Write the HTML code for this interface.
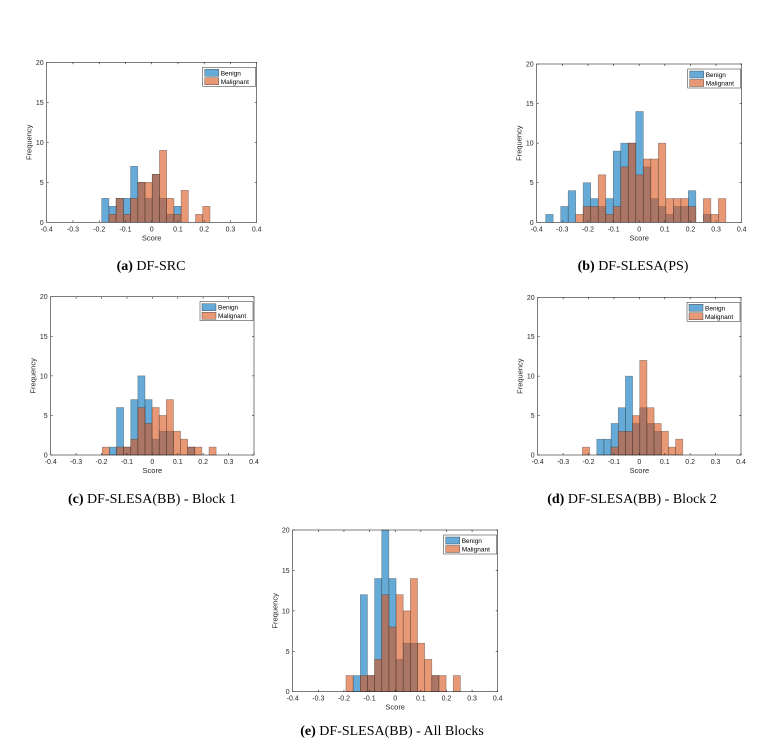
<!DOCTYPE html>
<html><head><meta charset="utf-8">
<style>
body{margin:0;background:#fff;width:776px;height:749px;overflow:hidden;font-family:"Liberation Sans",sans-serif}
.cap{position:absolute;font-family:"Liberation Serif",serif;font-size:14px;color:#000;transform:translateX(-50%);white-space:nowrap}
</style></head><body>
<svg id="chart" width="776" height="749" style="position:absolute;left:0;top:0"></svg>
<div class="cap" style="left:151px;top:259px"><b>(a)</b> DF-SRC</div>
<div class="cap" style="left:633px;top:259px"><b>(b)</b> DF-SLESA(PS)</div>
<div class="cap" style="left:152px;top:492px"><b>(c)</b> DF-SLESA(BB) - Block 1</div>
<div class="cap" style="left:632px;top:492px"><b>(d)</b> DF-SLESA(BB) - Block 2</div>
<div class="cap" style="left:392px;top:724px"><b>(e)</b> DF-SLESA(BB) - All Blocks</div>
<script>
// bin starts and widths
const binStarts = [-0.1905, -0.365, -0.197, -0.224, -0.192];
const binWidths = [0.0275, 0.0293, 0.028, 0.0282, 0.0279];
const benignA = [3,2,3,3,7,5,3,6,3,1,2,0,0,0,0];
const malignA = [0,1,3,1,3,5,5,6,9,3,1,4,0,1,2];
const benignB = [1,0,2,4,0,5,3,2,3,9,10,10,14,7,3,2,1,2,2,4,0,1,0,0];
const malignB = [0,0,0,0,1,2,2,6,1,2,7,10,6,8,8,10,3,3,3,2,0,3,1,3];
const benignC = [0,1,6,1,7,10,7,2,3,3,0,0,1,0,0,0];
const malignC = [1,0,1,1,2,6,4,6,5,7,3,2,1,1,0,1];
const benignD = [0,0,2,2,4,6,10,4,6,4,3,0,0,0];
const malignD = [1,0,0,0,1,3,3,5,12,6,4,3,1,2];
const benignE = [0,2,12,2,14,20,14,4,6,6,0,0,2,0,0,0];
const malignE = [2,0,2,2,4,12,8,12,10,14,6,4,2,2,0,2];
const xTicks = [-0.4,-0.3,-0.2,-0.1,0,0.1,0.2,0.3,0.4];
const xTickLabels = ["-0.4","-0.3","-0.2","-0.1","0","0.1","0.2","0.3","0.4"];
const yTicks = [0,5,10,15,20];

const panels = [
 {id:'a',L:46.7,R:256.7,T:62.3,B:222.3,b:benignA,m:malignA,s:0},
 {id:'b',L:536.7,R:741.7,T:64,B:222.3,b:benignB,m:malignB,s:1},
 {id:'c',L:50.7,R:254,T:296.7,B:455,b:benignC,m:malignC,s:2},
 {id:'d',L:537.7,R:741,T:297.3,B:455,b:benignD,m:malignD,s:3},
 {id:'e',L:292.7,R:497.7,T:530,B:691.7,b:benignE,m:malignE,s:4}
];
const svg=document.getElementById('chart');
const NS='http://www.w3.org/2000/svg';
function mk(tag,attrs,parent){const e=document.createElementNS(NS,tag);for(const k in attrs)e.setAttribute(k,attrs[k]);(parent||svg).appendChild(e);return e;}
panels.forEach(p=>{
 const g=mk('g',{});
 
 
 const xs=v=>p.L+(v+0.4)/0.8*(p.R-p.L);
 const ys=v=>p.B-v/20*(p.B-p.T);
 const bg=mk('rect',{x:p.L,y:p.T,width:p.R-p.L,height:p.B-p.T,fill:'#fff',stroke:'none'},g);
 
 
 const st=binStarts[p.s],w=binWidths[p.s];
 [[p.b,'#0072bd','benign'],[p.m,'#d95319','malignant']].forEach(([arr,col,nm])=>{
  arr.forEach((v,i)=>{
   if(v<=0)return;
   const x0=xs(st+i*w),x1=xs(st+(i+1)*w);
   const r=mk('rect',{x:x0,y:ys(v),width:x1-x0,height:ys(0)-ys(v),fill:col,'fill-opacity':0.6,stroke:'#333','stroke-opacity':0.5,'stroke-width':0.6},g);
   
   
  });
 });
 const ax=mk('rect',{x:p.L,y:p.T,width:p.R-p.L,height:p.B-p.T,fill:'none',stroke:'#262626','stroke-width':0.6},g);
 
 
 xTicks.forEach((t,i)=>{
  const x=xs(t);
  mk('line',{x1:x,x2:x,y1:p.B,y2:p.B-2,stroke:'#262626','stroke-width':0.6},g);
  mk('line',{x1:x,x2:x,y1:p.T,y2:p.T+2,stroke:'#262626','stroke-width':0.6},g);
  const tx=mk('text',{x:x,y:p.B+9,'font-size':7,'text-anchor':'middle',fill:'#262626'},g);
  tx.textContent=xTickLabels[i];
  
  
 });
 yTicks.forEach(t=>{
  const y=ys(t);
  mk('line',{x1:p.L,x2:p.L+2,y1:y,y2:y,stroke:'#262626','stroke-width':0.6},g);
  mk('line',{x1:p.R,x2:p.R-2,y1:y,y2:y,stroke:'#262626','stroke-width':0.6},g);
  const tx=mk('text',{x:p.L-3,y:y+2.5,'font-size':7,'text-anchor':'end',fill:'#262626'},g);
  tx.textContent=t;
  
  
 });
 const xl=mk('text',{x:(p.L+p.R)/2,y:p.B+18,'font-size':7.5,'text-anchor':'middle',fill:'#262626'},g);
 xl.textContent='Score';
 
 
 const ymid=(p.T+p.B)/2;
 const yl=mk('text',{x:p.L-15,y:ymid,'font-size':7.5,'text-anchor':'middle',fill:'#262626',transform:`rotate(-90 ${p.L-15} ${ymid})`},g);
 yl.textContent='Frequency';
 
 
 const lx=p.R-54,ly=p.T+5;
 const lg=mk('g',{},g);
 
 
 mk('rect',{x:lx,y:ly,width:53,height:19,fill:'#fff',stroke:'#262626','stroke-width':0.5},lg);
 [['Benign','#0072bd'],['Malignant','#d95319']].forEach(([n,c],i)=>{
  const sw=mk('rect',{x:lx+2,y:ly+2+i*8.5,width:14,height:7,fill:c,'fill-opacity':0.6,stroke:'#333','stroke-width':0.4},lg);
  
  
  const t=mk('text',{x:lx+18,y:ly+8+i*8.5,'font-size':6.5,fill:'#000'},lg);
  t.textContent=n;
  
  
 });
});
</script>
</body></html>
